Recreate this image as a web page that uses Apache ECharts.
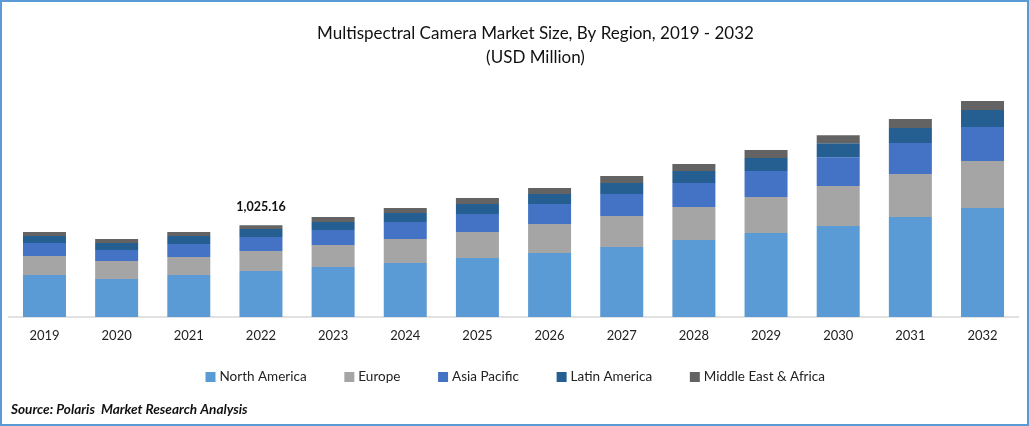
<!DOCTYPE html>
<html>
<head>
    <meta http-equiv="Content-Type" content="text/html; charset=utf-8" />
    <title>Multispectral Camera Market Size</title>
    <style>
        html, body { margin: 0; padding: 0; background: #fff; }
        #chart { width: 1029px; height: 426px; }
    </style>
</head>
<body>
    <div id="chart"></div>
    <script src="https://cdn.jsdelivr.net/npm/echarts@6/dist/echarts.min.js"></script>
    <script>
    var years = ['2019', '2020', '2021', '2022', '2023', '2024', '2025', '2026', '2027', '2028', '2029', '2030', '2031', '2032'];
    var northAmerica = [468, 424, 468, 513, 558, 602, 658, 714, 781, 859, 937, 1015, 1116, 1216];
    var europe = [212, 201, 201, 223, 245, 268, 290, 324, 346, 368, 402, 446, 480, 524];
    var asiaPacific = [145, 123, 145, 156, 167, 190, 201, 223, 245, 268, 290, 323, 346, 379];
    var latinAmerica = [78, 78, 89, 89, 89, 100, 112, 112, 123, 134, 145, 156, 167, 190];
    var middleEastAfrica = [45, 45, 45, 44.16, 56, 56, 67, 67, 78, 78, 89, 89, 100, 100];
    var labelledYear = '2022';
    var labelledTotal = '1,025.16';

    var font = 'Lato';
    var myChart = echarts.init(document.getElementById('chart'));

    function barSeries(name, values, color) {
        return { name: name, type: 'bar', stack: 'total', barWidth: 43, data: values, itemStyle: { color: color } };
    }

    var series = [
        barSeries('North America', northAmerica, '#5B9BD5'),
        barSeries('Europe', europe, '#A5A5A5'),
        barSeries('Asia Pacific', asiaPacific, '#4472C4'),
        barSeries('Latin America', latinAmerica, '#255E91'),
        barSeries('Middle East & Africa', middleEastAfrica, '#636363')
    ];
    // total shown only above one bar
    series[4].label = {
        show: true,
        position: 'top',
        distance: 12,
        fontFamily: font,
        fontSize: 12.5,
        fontWeight: 'bold',
        color: '#111',
        formatter: function (p) { return p.name === labelledYear ? labelledTotal : ''; }
    };

    var option = {
        animation: false,
        backgroundColor: '#fff',
        title: [
            {
                text: 'Multispectral Camera Market Size, By Region, 2019 - 2032\n(USD Million)',
                left: 530.5,
                top: 17,
                textAlign: 'center',
                textStyle: { fontFamily: font, fontSize: 17, fontWeight: 'normal', color: '#111', lineHeight: 24 }
            },
            {
                text: 'Source: Polaris  Market Research Analysis',
                left: 6,
                top: 398,
                textStyle: { fontFamily: font, fontSize: 13.6, fontWeight: 'bold', fontStyle: 'italic', color: '#111' }
            }
        ],
        grid: { left: 8.4, right: 10.4, top: 84, bottom: 109 },
        legend: {
            left: 200.5,
            top: 365,
            icon: 'rect',
            itemWidth: 10,
            itemHeight: 10,
            itemGap: 37.7,
            textStyle: { fontFamily: font, fontSize: 13.5, color: '#222', padding: [0, 0, 0, -1] }
        },
        xAxis: {
            type: 'category',
            data: years,
            axisTick: { show: false },
            axisLine: { lineStyle: { color: '#D9D9D9', width: 1.5 } },
            axisLabel: { fontFamily: font, fontSize: 13, color: '#222', margin: 12 }
        },
        yAxis: { type: 'value', min: 0, max: 2600, show: false, splitLine: { show: false } },
        series: series,
        graphic: [{
            type: 'rect',
            silent: true,
            shape: { x: 1, y: 1, width: 1027, height: 424 },
            style: { fill: 'none', stroke: '#5B9BD5', lineWidth: 2 }
        }]
    };

    myChart.setOption(option);
    </script>
</body>
</html>
